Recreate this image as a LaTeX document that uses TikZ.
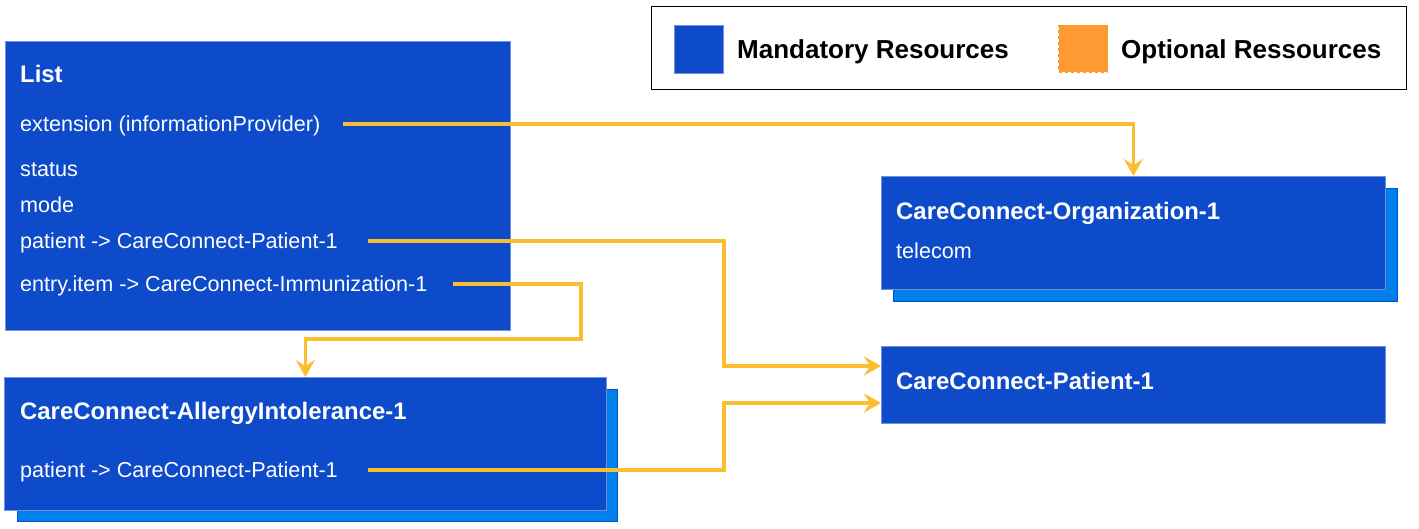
\documentclass[tikz,border=0pt]{standalone}
\usepackage{fontspec}
\setmainfont{Liberation Sans}
\usetikzlibrary{arrows.meta,calc}
\definecolor{mainblue}{RGB}{13,75,203}
\definecolor{mainedge}{RGB}{110,145,225}
\definecolor{shadowblue}{RGB}{0,128,232}
\definecolor{shadowedge}{RGB}{0,80,220}
\definecolor{connyellow}{RGB}{251,190,48}
\definecolor{optorange}{RGB}{255,154,51}
\definecolor{optedge}{RGB}{235,160,40}
\tikzset{
  mainbox/.style={draw=mainedge, line width=0.8pt, fill=mainblue, anchor=north west, inner sep=0pt},
  shadowbox/.style={draw=shadowedge, line width=0.8pt, fill=shadowblue, anchor=north west, inner sep=0pt},
  title/.style={anchor=base west, inner sep=0pt, text=white, font=\fontsize{23.9}{28}\selectfont\bfseries},
  field/.style={anchor=base west, inner sep=0pt, text=white, font=\fontsize{21.6}{26}\selectfont},
  legtext/.style={anchor=base west, inner sep=0pt, text=black, font=\fontsize{26}{30}\selectfont\bfseries},
  conn/.style={draw=connyellow, line width=3.2pt, -{Stealth[length=17pt,width=19pt,inset=6pt]}},
}
\begin{document}
\begin{tikzpicture}[x=1pt,y=-1pt]
\useasboundingbox[fill=white] (0,0) rectangle (1419,529);

% legend
\node[draw=black, line width=1.3pt, anchor=north west, minimum width=755pt, minimum height=83pt, inner sep=0pt] (legend) at (651,6) {};
\node[draw=mainedge, line width=0.8pt, fill=mainblue, anchor=north west, minimum width=49pt, minimum height=48pt, inner sep=0pt] (legblue) at (674,25) {};
\node[legtext] (legmand) at (737,59) {Mandatory Resources};
\node[draw=optedge, dashed, line width=1pt, fill=optorange, anchor=north west, minimum width=49pt, minimum height=47pt, inner sep=0pt] (legorange) at (1058,25) {};
\node[legtext] (legopt) at (1121,59) {Optional Ressources};

% List box
\node[mainbox, minimum width=505pt, minimum height=289pt] (list) at (5,41) {};
\node[title] (listtitle) at (20,83) {List};
\node[field] (lext) at (20,131.5) {extension (informationProvider)};
\node[field] (lstatus) at (20,176.5) {status};
\node[field] (lmode) at (20,212.5) {mode};
\node[field] (lpat) at (20,248.5) {patient -> CareConnect-Patient-1};
\node[field] (lentry) at (20,291.5) {entry.item -> CareConnect-Immunization-1};

% Allergy box
\node[shadowbox, minimum width=600pt, minimum height=132pt] (allergyshadow) at (17,389) {};
\node[mainbox, minimum width=602pt, minimum height=133pt] (allergy) at (4,377) {};
\node[title] (allergytitle) at (20,419) {CareConnect-AllergyIntolerance-1};
\node[field] (apat) at (20,477.5) {patient -> CareConnect-Patient-1};

% Organization box
\node[shadowbox, minimum width=504pt, minimum height=113pt] (orgshadow) at (893,188) {};
\node[mainbox, minimum width=504pt, minimum height=113pt] (org) at (881,176) {};
\node[title] (orgtitle) at (896,220) {CareConnect-Organization-1};
\node[field] (otel) at (896,258.5) {telecom};

% Patient box
\node[mainbox, minimum width=504pt, minimum height=77pt] (patient) at (881,346) {};
\node[title] (pattitle) at (896,389) {CareConnect-Patient-1};

% bend coordinates
\coordinate (b2) at (724,366);
\coordinate (b3) at (581,339);
\coordinate (b4) at (724,403);

% connectors
\draw[conn] ([xshift=22pt,yshift=7.5pt]lext.base east) -| (org.north);
\draw[conn] ([xshift=30pt,yshift=7.5pt]lpat.base east) -| (b2) -- (b2 -| patient.west);
\draw[conn] ([xshift=25pt,yshift=7.5pt]lentry.base east) -| (b3) -| (allergy.north);
\draw[conn] ([xshift=30pt,yshift=7.5pt]apat.base east) -| (b4) -- (b4 -| patient.west);
\end{tikzpicture}
\end{document}
